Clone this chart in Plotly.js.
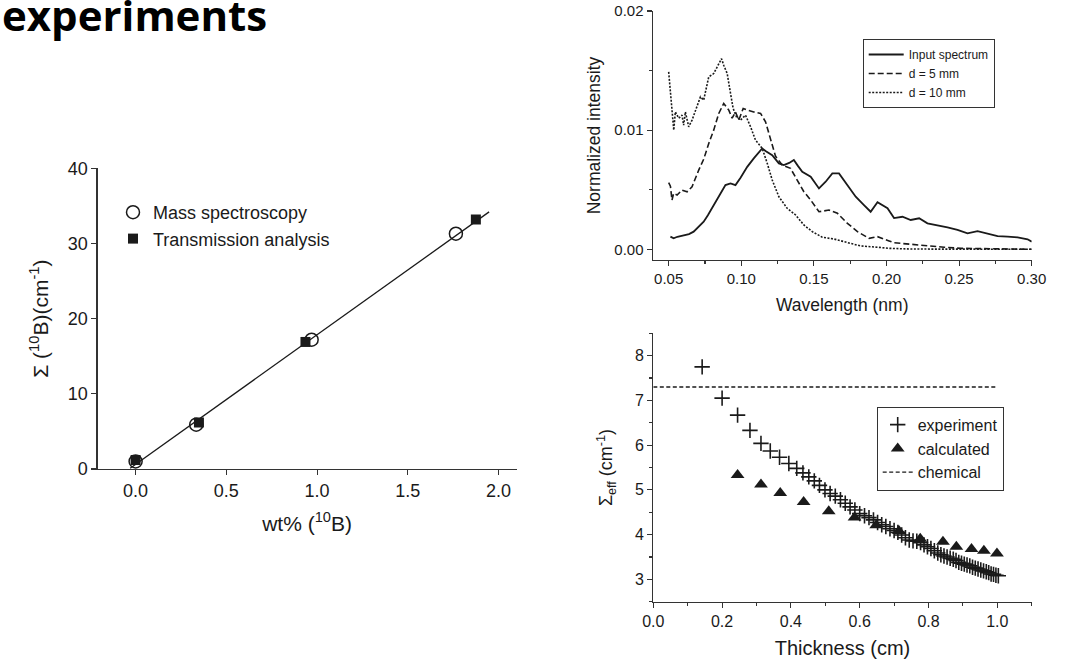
<!DOCTYPE html>
<html>
<head>
<meta charset="utf-8">
<script src="https://cdn.plot.ly/plotly-3.0.1.min.js"></script>
<style>html,body{margin:0;padding:0;background:#fff;}#chart{width:1071px;height:659px;}</style>
</head>
<body>
<div id="chart"></div>
<script>
// ---------- Panel 1: Sigma(10B) vs wt% (10B) ----------
const massX = [0.0, 0.334, 0.97, 1.765];
const massY = [1.0, 5.9, 17.2, 31.3];
const transX = [0.0, 0.349, 0.936, 1.875];
const transY = [1.2, 6.2, 16.9, 33.2];
const fitX = [-0.03, 1.948];
const fitY = [0.1, 34.2];

// ---------- Panel 2: spectra ----------
const inputX = [0.0512,0.0534,0.0560,0.0603,0.0640,0.0672,0.0705,0.0741,0.0770,0.0799,0.0830,0.0857,0.0891,0.0926,0.0960,0.0995,0.1041,0.1086,0.1144,0.1167,0.1213,0.1259,0.1293,0.1330,0.1362,0.1390,0.1420,0.1478,0.1535,0.1581,0.1627,0.1673,0.1731,0.1788,0.1845,0.1891,0.1938,0.2007,0.2052,0.2110,0.2167,0.2225,0.2282,0.2351,0.2420,0.2489,0.2558,0.2627,0.2696,0.2765,0.2834,0.2903,0.2972,0.3000];
const inputY = [0.00106,0.00092,0.00105,0.00120,0.00128,0.00148,0.00185,0.00231,0.00285,0.00344,0.00410,0.00469,0.00539,0.00553,0.00539,0.00600,0.00692,0.00763,0.00847,0.00825,0.00790,0.00721,0.00707,0.00725,0.00749,0.00700,0.00650,0.00609,0.00511,0.00567,0.00637,0.00637,0.00539,0.00441,0.00371,0.00315,0.00395,0.00344,0.00262,0.00273,0.00246,0.00260,0.00218,0.00204,0.00184,0.00162,0.00134,0.00153,0.00134,0.00111,0.00106,0.00100,0.00084,0.00064];
const d5X = [0.0500,0.0512,0.0523,0.0534,0.0558,0.0592,0.0627,0.0661,0.0707,0.0741,0.0776,0.0810,0.0845,0.0879,0.0914,0.0937,0.0960,0.0983,0.1013,0.1041,0.1086,0.1133,0.1167,0.1202,0.1236,0.1282,0.1339,0.1385,0.1431,0.1478,0.1535,0.1604,0.1662,0.1731,0.1800,0.1880,0.1938,0.2018,0.2052,0.2167,0.2282,0.2397,0.2512,0.2742,0.3000];
const d5Y = [0.00560,0.00530,0.00413,0.00469,0.00455,0.00497,0.00483,0.00525,0.00665,0.00755,0.00888,0.01000,0.01140,0.01224,0.01168,0.01100,0.01153,0.01084,0.01182,0.01168,0.01153,0.01140,0.01070,0.00930,0.00780,0.00707,0.00679,0.00581,0.00483,0.00413,0.00315,0.00329,0.00302,0.00218,0.00148,0.00092,0.00106,0.00070,0.00055,0.00042,0.00028,0.00017,0.00008,0.00002,0.00000];
const d10X = [0.0500,0.0517,0.0523,0.0535,0.0546,0.0569,0.0592,0.0603,0.0615,0.0638,0.0661,0.0696,0.0719,0.0741,0.0776,0.0810,0.0834,0.0864,0.0879,0.0903,0.0926,0.0944,0.0967,0.0995,0.1029,0.1064,0.1098,0.1144,0.1179,0.1213,0.1259,0.1316,0.1374,0.1431,0.1489,0.1558,0.1638,0.1731,0.1822,0.1938,0.2018,0.2167,0.3000];
const d10Y = [0.01489,0.01280,0.01195,0.01000,0.01153,0.01100,0.01126,0.01042,0.01153,0.01028,0.01084,0.01195,0.01280,0.01252,0.01447,0.01475,0.01530,0.01600,0.01545,0.01475,0.01308,0.01182,0.01110,0.01084,0.01126,0.01028,0.00916,0.00847,0.00721,0.00581,0.00441,0.00344,0.00288,0.00204,0.00148,0.00101,0.00086,0.00055,0.00028,0.00017,0.00008,0.00002,0.00000];

// ---------- Panel 3: Sigma_eff vs thickness ----------
const expX = [0.142,0.200,0.245,0.281,0.313,0.340,0.367,0.394,0.417,0.435,0.452,0.468,0.483,0.499,0.514,0.529,0.544,0.558,0.572,0.586,0.600,0.614,0.627,0.640,0.652,0.664,0.676,0.688,0.700,0.711,0.722,0.733,0.744,0.755,0.766,0.777,0.787,0.797,0.807,0.817,0.827,0.836,0.845,0.854,0.863,0.872,0.880,0.888,0.896,0.904,0.912,0.920,0.928,0.936,0.944,0.952,0.960,0.968,0.975,0.982,0.989,0.996,1.003];
const expY = [7.75,7.05,6.67,6.33,6.04,5.87,5.73,5.59,5.48,5.38,5.29,5.20,5.10,5.00,4.92,4.86,4.78,4.70,4.62,4.55,4.47,4.42,4.38,4.33,4.27,4.22,4.18,4.13,4.09,4.05,3.99,3.93,3.88,3.86,3.85,3.82,3.77,3.73,3.69,3.64,3.59,3.55,3.52,3.50,3.47,3.45,3.42,3.38,3.36,3.34,3.32,3.30,3.27,3.25,3.23,3.21,3.19,3.17,3.15,3.12,3.11,3.09,3.08];
const calcX = [0.245,0.313,0.369,0.437,0.510,0.585,0.648,0.714,0.776,0.842,0.881,0.925,0.961,0.999];
const calcY = [5.33,5.12,4.93,4.73,4.52,4.38,4.21,4.08,3.91,3.84,3.73,3.68,3.64,3.58];
const chemX = [0.0, 1.0];
const chemY = [7.3, 7.3];

const FONT = 'Liberation Sans, Arial, sans-serif';
const INK = '#1a1a1a';
const W = 1071, H = 659;
const px = v => v / W;
const py = v => 1 - v / H;

const traces = [
  {x: fitX, y: fitY, xaxis: 'x', yaxis: 'y', mode: 'lines', line: {color: INK, width: 1.3}, showlegend: false, hoverinfo: 'skip'},
  {x: massX, y: massY, xaxis: 'x', yaxis: 'y', mode: 'markers', name: 'Mass spectroscopy', legend: 'legend', legendgroup: 'a',
   marker: {symbol: 'circle-open', size: 13, color: INK, line: {width: 1.5, color: INK}}},
  {x: transX, y: transY, xaxis: 'x', yaxis: 'y', mode: 'markers', name: 'Transmission analysis', legend: 'legend', legendgroup: 'b',
   marker: {symbol: 'square', size: 10, color: INK}},

  {x: inputX, y: inputY, xaxis: 'x2', yaxis: 'y2', mode: 'lines', name: 'Input spectrum', legend: 'legend2', legendgroup: 'c',
   line: {color: INK, width: 1.8}},
  {x: d5X, y: d5Y, xaxis: 'x2', yaxis: 'y2', mode: 'lines', name: 'd = 5 mm', legend: 'legend2', legendgroup: 'd',
   line: {color: INK, width: 1.6, dash: '6px,3px'}},
  {x: d10X, y: d10Y, xaxis: 'x2', yaxis: 'y2', mode: 'lines', name: 'd = 10 mm', legend: 'legend2', legendgroup: 'e',
   line: {color: INK, width: 1.6, dash: '2px,1.5px'}},

  {x: expX, y: expY, xaxis: 'x3', yaxis: 'y3', mode: 'markers', name: 'experiment', legend: 'legend3', legendgroup: 'f',
   marker: {symbol: 'cross-thin-open', size: 11, color: INK, line: {width: 1.6, color: INK}}},
  {x: calcX, y: calcY, xaxis: 'x3', yaxis: 'y3', mode: 'markers', name: 'calculated', legend: 'legend3', legendgroup: 'g',
   marker: {symbol: 'triangle-up', size: 12, color: INK}},
  {x: chemX, y: chemY, xaxis: 'x3', yaxis: 'y3', mode: 'lines', name: 'chemical', legend: 'legend3', legendgroup: 'h',
   line: {color: INK, width: 1.3, dash: '4px,2.5px'}}
];

function mainAxis(o) {
  return Object.assign({
    showgrid: false, zeroline: false, showline: true, linecolor: '#333', linewidth: 1.2,
    ticks: 'outside', ticklen: 5, tickwidth: 1.1, tickcolor: '#333',
    tickfont: {family: FONT, size: 16, color: INK}, autorange: false, fixedrange: true
  }, o);
}
function mirrorAxis(o) {
  return Object.assign({
    showgrid: false, zeroline: false, showline: true, linecolor: '#333', linewidth: 1.2,
    ticks: 'inside', ticklen: 5, tickwidth: 1.1, tickcolor: '#333',
    showticklabels: false, autorange: false, fixedrange: true
  }, o);
}

const layout = {
  width: W, height: H, autosize: false,
  margin: {l: 0, r: 0, t: 0, b: 0, pad: 0},
  paper_bgcolor: '#fff', plot_bgcolor: 'rgba(0,0,0,0)',
  font: {family: FONT, color: INK},
  showlegend: true,

  // Panel 1
  xaxis: mainAxis({domain: [px(97.5), px(516.7)], anchor: 'y', range: [-0.21, 2.1], tick0: 0, dtick: 0.5, tickformat: '.1f',
    tickfont: {family: FONT, size: 18, color: INK},
    title: {text: 'wt% (<sup>10</sup>B)', font: {family: FONT, size: 21, color: INK}, standoff: 16}}),
  yaxis: mainAxis({domain: [py(469), py(168.3)], anchor: 'x', range: [0, 40], tick0: 0, dtick: 10,
    tickfont: {family: FONT, size: 18, color: INK},
    title: {text: 'Σ (<sup>10</sup>B)(cm<sup>-1</sup>)', font: {family: FONT, size: 21, color: INK}, standoff: 13}}),
  xaxis4: mirrorAxis({overlaying: 'x', side: 'top', anchor: 'y', range: [-0.21, 2.1], tick0: 0, dtick: 0.5}),
  yaxis4: mirrorAxis({overlaying: 'y', side: 'right', anchor: 'x', range: [0, 40], tick0: 0, dtick: 10}),

  // Panel 2
  xaxis2: mainAxis({domain: [px(652.7), px(1031.7)], anchor: 'y2', range: [0.039, 0.3], tick0: 0.05, dtick: 0.05, tickformat: '.2f',
    tickfont: {family: FONT, size: 15, color: INK},
    minor: {ticks: 'outside', ticklen: 3, dtick: 0.025, tick0: 0.05, tickcolor: '#333'},
    title: {text: 'Wavelength (nm)', font: {family: FONT, size: 17.5, color: INK}, standoff: 12}}),
  yaxis2: mainAxis({domain: [py(260), py(11)], anchor: 'x2', range: [-0.0009, 0.02], tick0: 0, dtick: 0.01, tickformat: '.2f',
    tickfont: {family: FONT, size: 15, color: INK},
    minor: {ticks: 'outside', ticklen: 3, dtick: 0.005, tick0: 0, tickcolor: '#333'},
    title: {text: 'Normalized intensity', font: {family: FONT, size: 17.5, color: INK}, standoff: 9}}),
  xaxis5: mirrorAxis({overlaying: 'x2', side: 'top', anchor: 'y2', range: [0.039, 0.3], tick0: 0.05, dtick: 0.05,
    minor: {ticks: 'inside', ticklen: 3, dtick: 0.025, tick0: 0.05, tickcolor: '#333'}}),
  yaxis5: mirrorAxis({overlaying: 'y2', side: 'right', anchor: 'x2', range: [-0.0009, 0.02], tick0: 0, dtick: 0.01,
    minor: {ticks: 'inside', ticklen: 3, dtick: 0.005, tick0: 0, tickcolor: '#333'}}),

  // Panel 3
  xaxis3: mainAxis({domain: [px(653.3), px(1031.7)], anchor: 'y3', range: [0, 1.1], tick0: 0, dtick: 0.2, tickformat: '.1f',
    tickfont: {family: FONT, size: 16, color: INK},
    minor: {ticks: 'outside', ticklen: 3, dtick: 0.1, tick0: 0, tickcolor: '#333'},
    title: {text: 'Thickness (cm)', font: {family: FONT, size: 20, color: INK}, standoff: 14}}),
  yaxis3: mainAxis({domain: [py(601.7), py(333.3)], anchor: 'x3', range: [2.5, 8.5], tick0: 3, dtick: 1,
    tickfont: {family: FONT, size: 16, color: INK},
    minor: {ticks: 'outside', ticklen: 3, dtick: 0.5, tick0: 2.5, tickcolor: '#333'},
    title: {text: 'Σ<sub>eff</sub> (cm<sup>-1</sup>)', font: {family: FONT, size: 18, color: INK}, standoff: 17}}),
  xaxis6: mirrorAxis({overlaying: 'x3', side: 'top', anchor: 'y3', range: [0, 1.1], tick0: 0, dtick: 0.2,
    minor: {ticks: 'inside', ticklen: 3, dtick: 0.1, tick0: 0, tickcolor: '#333'}}),
  yaxis6: mirrorAxis({overlaying: 'y3', side: 'right', anchor: 'x3', range: [2.5, 8.5], tick0: 3, dtick: 1,
    minor: {ticks: 'inside', ticklen: 3, dtick: 0.5, tick0: 2.5, tickcolor: '#333'}}),

  legend: {x: px(113), y: py(194), xanchor: 'left', yanchor: 'top', bgcolor: 'rgba(0,0,0,0)', borderwidth: 0,
    font: {family: FONT, size: 18, color: INK}, tracegroupgap: 7, traceorder: 'normal'},
  legend2: {x: px(862.7), y: py(39), xanchor: 'left', yanchor: 'top', bgcolor: '#fff', bordercolor: '#333', borderwidth: 1,
    font: {family: FONT, size: 12, color: INK}, tracegroupgap: 6, traceorder: 'normal', itemwidth: 35},
  legend3: {x: px(876.7), y: py(406.7), xanchor: 'left', yanchor: 'top', bgcolor: '#fff', bordercolor: '#333', borderwidth: 1,
    font: {family: FONT, size: 16, color: INK}, tracegroupgap: 8, traceorder: 'normal'},

  annotations: [
    {text: '<b>experiments</b>', xref: 'paper', yref: 'paper', x: 0, y: py(15), xanchor: 'left', yanchor: 'middle',
     showarrow: false, font: {family: 'Open Sans, Lato, sans-serif', size: 42, color: '#000'}}
  ]
};

Plotly.newPlot('chart', traces, layout, {staticPlot: true, displayModeBar: false});
</script>
</body>
</html>
